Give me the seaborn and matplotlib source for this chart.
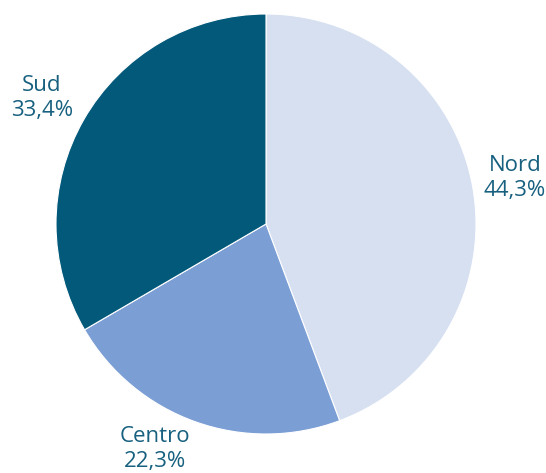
import matplotlib.pyplot as plt
import seaborn as sns

# === Data ===
regions = ["Nord", "Centro", "Sud"]
shares = [44.3, 22.3, 33.4]
colors = ["#D6E0F1", "#7B9ED5", "#02597A"]

sns.set_style("white")
plt.rcParams["font.family"] = ["Open Sans", "DejaVu Sans"]

fig = plt.figure(figsize=(5.46, 4.73), dpi=100)
ax = fig.add_axes([0, 0, 1, 1])

# pixel-like data coordinates, pie centred at (0, 0)
ax.pie(
    shares,
    colors=colors,
    startangle=90,
    counterclock=False,
    radius=210,
    center=(0, 0),
    frame=True,
    wedgeprops={"edgecolor": "white", "linewidth": 0.8},
)
ax.set_xlim(-266, 280)
ax.set_ylim(-249, 224)
ax.set_aspect("auto")
ax.axis("off")

# label anchors (pixel offsets from the pie centre)
label_pos = {"Nord": (249, 46), "Centro": (-111, -225), "Sud": (-224, 126)}
for name, val in zip(regions, shares):
    x, y = label_pos[name]
    txt = f"{name}\n{val:.1f}%".replace(".", ",")
    ax.text(x, y, txt, ha="center", va="center", fontsize=16,
            color="#17607F", linespacing=1.2, fontweight="medium")

fig.savefig("out.png", dpi=100)
